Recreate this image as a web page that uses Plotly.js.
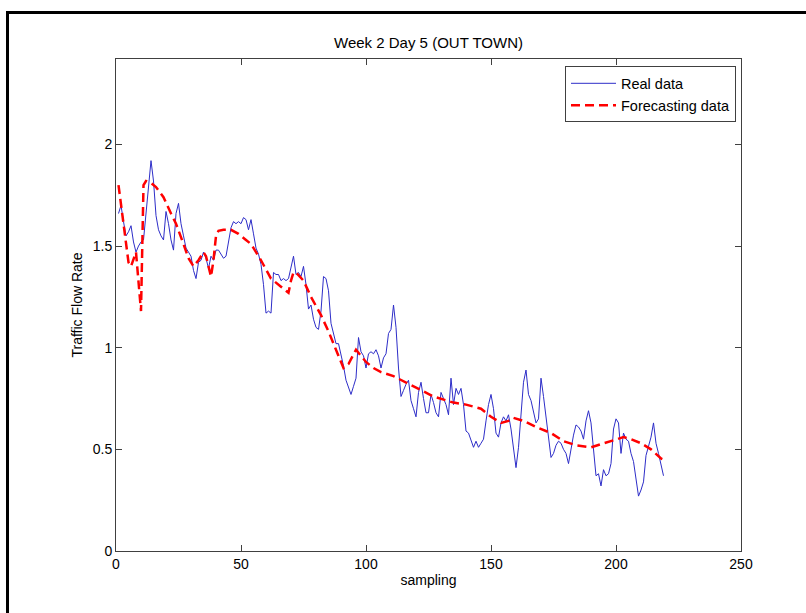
<!DOCTYPE html>
<html><head><meta charset="utf-8">
<script src="https://cdn.plot.ly/plotly-3.0.1.min.js"></script>
<style>
html,body{margin:0;padding:0;background:#fff;}
#chart{width:806px;height:613px;position:absolute;left:0;top:0;}
#frame{position:absolute;left:6px;top:11px;width:806px;height:620px;border-top:3px solid #000;border-left:3px solid #000;pointer-events:none;}
</style>
</head><body>
<div id="chart"></div><div id="frame"></div>
<script>
// Real data, sampled at x = 1, 2, 3, ... 219
const realY = [
1.66,1.70,1.62,1.55,1.57,1.60,1.52,1.47,1.50,1.52,
1.53,1.66,1.80,1.92,1.82,1.65,1.58,1.55,1.53,1.67,
1.61,1.53,1.48,1.66,1.71,1.61,1.55,1.49,1.47,1.45,
1.38,1.34,1.42,1.43,1.47,1.44,1.39,1.45,1.43,1.48,
1.48,1.46,1.44,1.45,1.52,1.59,1.62,1.61,1.62,1.61,
1.64,1.63,1.58,1.63,1.56,1.49,1.46,1.41,1.31,1.17,
1.18,1.17,1.37,1.36,1.36,1.33,1.34,1.33,1.34,1.39,
1.45,1.36,1.37,1.35,1.40,1.31,1.19,1.21,1.14,1.10,
1.09,1.18,1.35,1.34,1.28,1.12,1.07,1.02,1.02,0.97,
0.91,0.84,0.80,0.77,0.81,0.85,1.05,0.98,0.96,0.90,
0.97,0.98,0.97,0.99,0.96,0.90,0.95,0.97,1.07,1.09,
1.21,1.10,0.90,0.76,0.79,0.82,0.84,0.74,0.70,0.66,
0.78,0.83,0.75,0.68,0.68,0.77,0.73,0.68,0.66,0.78,
0.75,0.72,0.67,0.85,0.72,0.80,0.77,0.80,0.72,0.59,
0.58,0.54,0.51,0.54,0.51,0.53,0.55,0.64,0.72,0.77,
0.70,0.58,0.56,0.63,0.66,0.64,0.67,0.60,0.50,0.41,
0.51,0.68,0.83,0.89,0.77,0.74,0.68,0.63,0.65,0.85,
0.76,0.66,0.56,0.46,0.48,0.52,0.54,0.53,0.50,0.48,
0.43,0.51,0.57,0.62,0.61,0.59,0.55,0.64,0.69,0.63,
0.50,0.37,0.38,0.32,0.40,0.37,0.38,0.43,0.60,0.65,
0.63,0.48,0.58,0.55,0.54,0.48,0.44,0.36,0.27,0.30,
0.34,0.47,0.52,0.56,0.63,0.53,0.48,0.43,0.37
];
// Forecasting data (smooth curve, read at these sample positions)
const fcX = [1,3,5,6,8,10,11,12,14,16,19,22,24,27,29,31,33,35,36,37,38,39,40,41,43,46,49,52,54,58,62,66,68,69,70,71,72,75,78,82,85,88,91,93,96,98,100,103,106,111,119,127,135,140,146,150,154,157,159,163,168,174,179,184,190,195,199,203,206,210,214,218,219];
const fcY = [1.80,1.62,1.42,1.40,1.47,1.18,1.80,1.82,1.81,1.79,1.74,1.66,1.61,1.51,1.44,1.40,1.43,1.47,1.45,1.40,1.35,1.43,1.55,1.575,1.58,1.58,1.56,1.53,1.51,1.43,1.34,1.30,1.28,1.27,1.33,1.37,1.37,1.33,1.25,1.16,1.08,0.99,0.90,0.92,0.99,0.96,0.93,0.90,0.88,0.86,0.81,0.76,0.73,0.72,0.70,0.66,0.63,0.64,0.655,0.64,0.61,0.58,0.54,0.52,0.51,0.53,0.545,0.56,0.55,0.53,0.50,0.455,0.45];
const xTicks = [0,50,100,150,200,250];
const yTicks = [0,0.5,1,1.5,2];
const seriesNames = ['Real data','Forecasting data'];
const titleText = 'Week 2 Day 5 (OUT TOWN)';
const xLabel = 'sampling';
const yLabel = 'Traffic Flow Rate';

const font = {family:'"Liberation Sans", Arial, sans-serif', size:14, color:'#000'};
const axisCommon = {
  showgrid:false, zeroline:false, showline:true, linecolor:'#404040', linewidth:1,
  mirror:'ticks', ticks:'inside', ticklen:6, tickcolor:'#404040', tickwidth:1,
  tickfont:font, automargin:false
};
const traces = [
  {x0:1, dx:1, y:realY, type:'scatter', mode:'lines', name:seriesNames[0],
   line:{color:'rgb(45,45,200)', width:1}},
  {x:fcX, y:fcY, type:'scatter', mode:'lines', name:seriesNames[1],
   line:{color:'rgb(255,0,0)', width:2.5, dash:'9px,5px'}}
];
const layout = {
  width:806, height:613,
  margin:{l:116, r:65, t:59, b:62},
  paper_bgcolor:'#fff', plot_bgcolor:'#fff',
  font:font,
  title:{text:titleText, font:Object.assign({}, font, {size:15}), x:0.5, xref:'paper', y:1-43/613, yref:'container', yanchor:'middle'},
  xaxis:Object.assign({}, axisCommon, {range:[0,250], tickvals:xTicks,
    title:{text:xLabel, font:font, standoff:4}}),
  yaxis:Object.assign({}, axisCommon, {range:[0,2.42], tickvals:yTicks,
    title:{text:yLabel, font:font, standoff:6}}),
  showlegend:true,
  legend:{x:0.992, xanchor:'right', y:0.985, yanchor:'top', bgcolor:'#fff',
    bordercolor:'#404040', borderwidth:1, font:Object.assign({}, font, {size:14.5}), itemwidth:45,
    tracegroupgap:0}
};
Plotly.newPlot('chart', traces, layout, {staticPlot:true, displayModeBar:false});
</script>
</body></html>
